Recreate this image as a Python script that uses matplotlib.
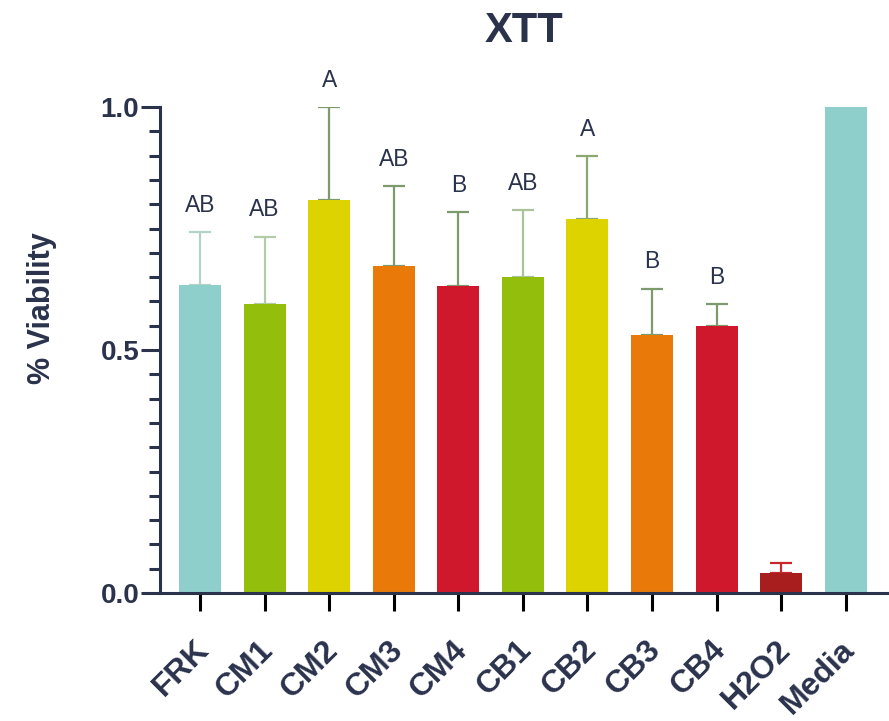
import matplotlib

matplotlib.use("Agg")
import matplotlib.pyplot as plt
import matplotlib.transforms as mtransforms
import numpy as np
from matplotlib.ticker import FixedLocator

# Datos del ensayo XTT (media y desviacion hacia arriba)
grupos = ["FRK", "CM1", "CM2", "CM3", "CM4", "CB1", "CB2", "CB3", "CB4", "H2O2", "Media"]
viabilidad = [0.634, 0.595, 0.809, 0.673, 0.632, 0.650, 0.770, 0.531, 0.549, 0.041, 1.0]
desviacion = [0.109, 0.138, 0.191, 0.164, 0.152, 0.138, 0.129, 0.095, 0.046, 0.021, 0.0]
letras = ["AB", "AB", "A", "AB", "B", "AB", "A", "B", "B", "", ""]

# Estilo
TINTA = "#2b324c"
colores_barra = ["#8ecfcc", "#93be0c", "#dcd300", "#e97a0a", "#d0182d",
                 "#93be0c", "#dcd300", "#e97a0a", "#d0182d", "#a81e1f", "#8ecfcc"]
colores_error = ["#b3d3c7", "#b3cca8", "#7c9a6c", "#7c9a6c", "#7c9a6c",
                 "#aac39c", "#8aa870", "#7c9a6c", "#7c9a6c", "#c8282d", "#8ecfcc"]
colores_tick = [TINTA, TINTA, TINTA, TINTA, "#d0182d",
                TINTA, TINTA, TINTA, "#d0182d", TINTA, TINTA]

plt.rcParams["font.family"] = ["Liberation Sans", "DejaVu Sans"]

fig = plt.figure(figsize=(8.89, 7.21), dpi=100)
ax = fig.add_axes([0.18, 0.1775, 0.82, 0.6741])

x = np.arange(len(grupos))
ax.bar(x, viabilidad, width=0.65, color=colores_barra, zorder=2)

for xi, v, d, c in zip(x, viabilidad, desviacion, colores_error):
    if d > 0:
        ax.errorbar(xi, v, yerr=[[0], [d]], fmt="none", ecolor=c,
                    elinewidth=1.6, capsize=8, capthick=1.6, zorder=1)

for xi, v, d, letra in zip(x, viabilidad, desviacion, letras):
    if letra:
        ax.annotate(letra, (xi, v + d), xytext=(0, 11), textcoords="offset points",
                    ha="center", va="bottom", fontsize=16.5, color=TINTA,
                    annotation_clip=False)

ax.set_xlim(-0.62, 10.67)
ax.set_ylim(0, 1.0)
ax.yaxis.set_major_locator(FixedLocator([0.0, 0.5, 1.0]))
ax.set_yticklabels(["0.0", "0.5", "1.0"])
menores = [round(0.05 * i, 2) for i in range(1, 20) if i != 10]
ax.yaxis.set_minor_locator(FixedLocator(menores))
ax.set_xticks(x)
ax.set_xticklabels(grupos, rotation=45, ha="right", rotation_mode="anchor")

for lado in ["top", "right"]:
    ax.spines[lado].set_visible(False)
for lado in ["left", "bottom"]:
    ax.spines[lado].set_color(TINTA)
    ax.spines[lado].set_linewidth(2.2)

ax.tick_params(axis="y", which="major", length=14, width=2.2, color=TINTA,
               labelsize=20, labelcolor=TINTA, pad=1)
ax.tick_params(axis="y", which="minor", length=8, width=2.2, color=TINTA)
ax.tick_params(axis="x", length=13, width=2.2, labelsize=23, labelcolor=TINTA, pad=17)
for tick, c in zip(ax.xaxis.get_major_ticks(), colores_tick):
    tick.tick1line.set_color(c)

# corrimiento leve de las etiquetas inclinadas
desplazamiento = mtransforms.ScaledTranslation(-6 / 100, 0, fig.dpi_scale_trans)
for etiqueta in ax.get_xticklabels():
    etiqueta.set_transform(etiqueta.get_transform() + desplazamiento)
for etiqueta in ax.get_xticklabels() + ax.get_yticklabels():
    etiqueta.set_fontweight("bold")

ax.set_ylabel("% Viability", fontsize=22, fontweight="bold", color=TINTA)
ax.yaxis.set_label_coords(-0.141, 0.586)
ax.set_title("XTT", fontsize=30, fontweight="bold", color=TINTA, pad=47)

fig.savefig("out.png", dpi=100)
